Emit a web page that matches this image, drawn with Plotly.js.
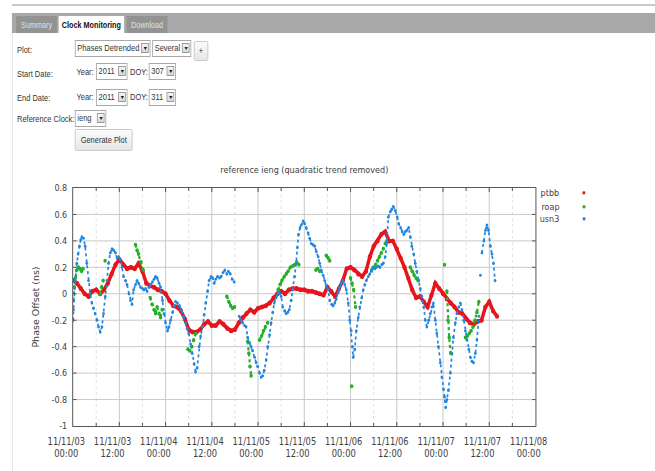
<!DOCTYPE html>
<html><head><meta charset="utf-8">
<script src="https://cdn.plot.ly/plotly-3.0.1.min.js"></script>
<style>
html,body{margin:0;padding:0;background:#fff;overflow:hidden;width:655px;height:471px;}
#page{position:absolute;left:0;top:0;width:771px;height:471px;transform:scaleX(0.85);transform-origin:0 0;font-family:"Liberation Sans",Arial,sans-serif;font-size:8.8px;color:#333;}
.abs{position:absolute;}
#topline{left:14px;top:4px;width:757px;height:2px;background:#c8c8c8;}
#tabbar{left:14px;top:13px;width:757px;height:20px;background:#a8a8a8;}
.tab{position:absolute;top:16px;height:17px;line-height:18px;text-align:center;font-size:8.5px;}
.tab.off{background:#939393;color:#e0e0e0;}
.tab.on{background:#fff;color:#111;font-weight:bold;}
#leftline{left:14px;top:33px;width:1px;height:438px;background:#e0e0e0;}
.lbl{position:absolute;height:17px;line-height:17px;white-space:nowrap;}
.sel{position:absolute;height:17px;border:1px solid #a8a8a8;background:#fff;line-height:15px;padding-left:2px;box-sizing:border-box;white-space:nowrap;overflow:hidden;}
.arrow{position:absolute;right:1px;top:2px;width:9px;height:10px;border:1px solid #9a9a9a;box-sizing:border-box;background:linear-gradient(#f6f6f6,#d6d6d6);}
.arrow:after{content:'';position:absolute;left:1.5px;top:3px;border-left:2.5px solid transparent;border-right:2.5px solid transparent;border-top:3px solid #222;}
.btn{position:absolute;border:1px solid #c6c6c6;border-radius:2px;background:linear-gradient(#fbfbfb,#e6e6e6);text-align:center;box-sizing:border-box;}
#chart{position:absolute;left:0;top:155px;width:771px;height:316px;}
</style>
</head>
<body>
<div id="page">
  <div id="topline" class="abs"></div>
  <div id="tabbar" class="abs"></div>
  <div class="tab off" style="left:19px;width:48px;">Summary</div>
  <div class="tab on" style="left:69px;width:77px;">Clock Monitoring</div>
  <div class="tab off" style="left:149px;width:48px;">Download</div>
  <div id="leftline" class="abs"></div>

  <div class="lbl" style="left:20px;top:42px;">Plot:</div>
  <div class="sel" style="left:88px;top:40px;width:89px;">Phases Detrended<div class="arrow"></div></div>
  <div class="sel" style="left:179px;top:40px;width:46px;">Several<div class="arrow"></div></div>
  <div class="btn" style="left:228px;top:41px;width:17px;height:20px;line-height:18px;">+</div>

  <div class="lbl" style="left:20px;top:66px;">Start Date:</div>
  <div class="lbl" style="left:90px;top:64px;">Year:</div>
  <div class="sel" style="left:113px;top:63px;width:37px;">2011<div class="arrow"></div></div>
  <div class="lbl" style="left:153px;top:64px;">DOY:</div>
  <div class="sel" style="left:175px;top:63px;width:32px;">307<div class="arrow"></div></div>

  <div class="lbl" style="left:20px;top:90px;">End Date:</div>
  <div class="lbl" style="left:90px;top:89px;">Year:</div>
  <div class="sel" style="left:113px;top:89px;width:37px;">2011<div class="arrow"></div></div>
  <div class="lbl" style="left:153px;top:89px;">DOY:</div>
  <div class="sel" style="left:175px;top:89px;width:32px;">311<div class="arrow"></div></div>

  <div class="lbl" style="left:20px;top:111px;">Reference Clock:</div>
  <div class="sel" style="left:88px;top:110px;width:37px;">ieng<div class="arrow"></div></div>

  <div class="btn" style="left:88px;top:129px;width:68px;height:22px;line-height:20px;">Generate Plot</div>

  <div id="chart"></div>
</div>
<script>
const seriesNames = ["ptbb", "roap", "usn3"];
const startDate = "2011-11-03";

// hours after 2011-11-03 00:00; null = break in the record
const ptbbHours = [0,1,2,3,4,5,6,7,8,9,
 10,11,12,13,14,15,16,17,18,19,
 20,21,22,23,24,25,26,27,28,29,
 30,31,32,33,34,35,36,37,38,39,
 40,41,42,43,44,45,46,47,48,49,
 50,51,52,53,54,55,56,57,58,59,
 60,61,62,63,64,65,66,67,68,69,
 70,71,72,73,74,75,76,77,78,79,
 80,81,82,83,84,85,86,87,88,89,
 90,91,92,93,94,95,96,97,98,99,
 100,101,102,103,104,105,106,107,108,109,
 110];
const ptbbPhase = [0.10,0.08,0.04,0.00,-0.02,0.02,0.03,0.00,0.03,0.08,
 0.15,0.22,0.26,0.22,0.19,0.20,0.19,0.23,0.17,0.08,
 0.06,0.05,0.03,0.02,0.00,-0.05,-0.09,-0.10,-0.13,-0.19,
 -0.27,-0.29,-0.29,-0.27,-0.23,-0.21,-0.24,-0.24,-0.21,-0.23,
 -0.26,-0.28,-0.27,-0.22,-0.18,-0.15,-0.12,-0.14,-0.11,-0.10,
 -0.09,-0.07,-0.03,0.00,0.02,0.00,0.03,0.04,0.04,0.03,
 0.03,0.02,0.02,0.01,0.00,-0.01,0.05,0.02,-0.02,0.04,
 0.10,0.19,0.20,0.18,0.15,0.13,0.17,0.28,0.36,0.40,
 0.45,0.47,0.40,0.40,0.34,0.27,0.20,0.12,0.03,-0.03,
 -0.02,-0.06,-0.10,-0.01,0.08,0.04,0.00,-0.04,-0.07,-0.10,
 -0.14,-0.15,-0.19,-0.22,-0.23,-0.21,-0.20,-0.10,-0.06,-0.13,
 -0.17];

const roapHours = [0.0,0.3,0.6,1.0,1.4,1.8,2.2,2.6,null,7.0,7.4,
 7.8,null,8.3,null,16.2,16.6,17.0,17.6,18.2,null,20.0,20.5,21.0,
 21.4,21.8,22.3,22.7,23.1,null,29.8,30.3,30.8,31.3,31.8,null,
 39.9,40.4,40.9,41.4,41.9,null,45.3,45.6,45.9,46.2,null,48.4,
 48.9,49.4,49.9,50.5,null,53.2,53.7,54.2,54.8,55.3,55.8,
 56.4,57.0,57.5,58.0,58.6,null,63.0,63.5,64.0,null,65.7,66.2,
 66.6,null,72.0,72.4,72.8,73.3,null,72.3,null,77.5,78.0,78.5,79.0,
 79.5,80.0,80.5,81.0,81.4,null,87.5,88.0,88.5,89.0,89.5,null,
 96.4,null,97.0,97.3,97.6,98.0,null,101.8,102.3,102.8,103.3,103.8,
 104.3,104.8,105.3];
const roapPhase = [-0.05,0.05,0.12,0.18,0.20,0.19,0.17,0.19,null,0.00,0.05,
 0.10,null,0.25,null,0.37,0.33,0.30,0.24,0.18,null,-0.03,-0.08,-0.12,
 -0.15,-0.10,-0.15,-0.18,-0.12,null,-0.42,-0.43,-0.40,-0.35,-0.30,null,
 -0.02,-0.06,-0.09,-0.11,-0.10,null,-0.36,-0.45,-0.55,-0.62,null,-0.35,
 -0.32,-0.28,-0.25,-0.22,null,0.03,0.07,0.10,0.13,0.15,0.17,
 0.20,0.21,0.22,0.24,0.22,null,0.18,0.19,0.17,null,0.29,0.27,
 0.25,null,0.12,0.08,0.03,-0.10,null,-0.70,null,0.18,0.20,0.22,0.25,
 0.28,0.31,0.34,0.38,0.40,null,0.20,0.17,0.14,0.12,0.10,null,
 0.22,null,0.02,-0.20,-0.33,-0.45,null,-0.33,-0.32,-0.30,-0.28,-0.25,
 -0.20,-0.14,-0.06];

const usn3Hours = [0.0,0.1,0.5,0.96,1.3,1.65,2.0,2.26,2.7,3.13,
 3.57,4.0,4.44,4.87,5.3,5.74,6.2,6.6,7.04,7.5,
 7.9,8.35,8.8,9.2,9.65,10.1,10.5,11.0,11.4,11.8,
 12.3,12.7,13.1,13.6,14.0,14.5,14.9,15.3,15.7,16.2,
 16.6,17.0,17.5,18.0,18.4,18.8,19.2,19.7,20.1,20.6,
 21.0,21.4,21.8,22.3,22.7,23.2,23.6,24.0,24.5,24.9,
 25.3,25.8,26.2,26.6,27.1,27.6,28.1,28.6,29.2,29.6,
 30.0,30.5,30.9,31.4,31.8,32.2,32.7,33.1,33.6,34.0,
 34.4,34.9,35.3,35.8,36.2,36.6,37.0,37.5,38.0,38.4,
 38.9,39.4,39.9,40.3,40.8,41.3,41.8,null,43.1,43.6,44.0,
 44.5,44.9,45.3,45.8,46.2,46.6,47.1,47.5,47.9,48.4,
 48.8,49.2,49.6,50.1,50.5,51.0,51.4,51.8,52.2,52.7,
 53.1,53.5,54.0,54.4,54.9,55.3,55.7,56.1,56.6,57.0,
 57.5,57.9,58.2,58.5,58.9,59.2,59.7,60.1,60.5,61.0,
 61.4,61.8,62.3,62.7,63.1,63.6,64.0,64.4,64.9,65.3,
 65.7,66.2,66.6,67.1,67.5,67.9,68.3,68.8,69.2,69.6,
 70.0,70.5,70.9,71.4,71.8,72.2,72.5,72.7,73.1,73.5,
 74.0,74.4,74.9,75.3,75.7,76.1,76.6,77.0,77.4,77.8,
 78.3,78.7,79.2,79.6,80.1,80.5,81.0,81.4,81.8,82.3,
 82.7,83.1,83.6,84.1,84.5,85.0,85.4,85.8,86.2,86.6,
 87.1,87.5,87.9,88.4,88.8,89.2,89.7,90.1,90.5,91.0,
 91.4,91.8,92.3,92.7,93.1,93.5,94.0,94.4,94.8,95.3,
 95.7,96.1,96.4,96.7,97.0,97.4,97.9,98.3,98.7,99.2,
 99.6,100.1,100.5,100.9,101.4,101.8,102.2,102.7,103.1,103.5,
 103.9,104.4,104.8,105.3,null,105.7,null,106.1,106.6,107.0,107.4,107.8,
 108.3,108.7,109.1,109.5];
const usn3Phase = [-0.20,-0.12,0.10,0.23,0.30,0.36,0.41,0.43,0.42,0.36,
 0.23,0.10,0.00,-0.07,-0.11,-0.15,-0.20,-0.25,-0.29,-0.25,
 -0.15,-0.02,0.10,0.23,0.31,0.34,0.33,0.31,0.27,0.28,
 0.26,0.20,0.13,0.10,0.07,0.00,-0.05,-0.08,0.03,0.07,
 0.10,0.08,0.05,0.04,0.03,0.04,0.02,0.05,0.07,0.09,
 0.11,0.13,0.12,0.08,0.05,-0.05,-0.15,-0.22,-0.28,-0.25,
 -0.20,-0.14,-0.09,-0.06,-0.07,-0.09,-0.12,-0.17,-0.22,-0.26,
 -0.30,-0.38,-0.45,-0.53,-0.59,-0.56,-0.40,-0.32,-0.25,-0.16,
 -0.07,0.02,0.10,0.13,0.12,0.08,0.11,0.13,0.12,0.13,
 0.16,0.18,0.15,0.17,0.15,0.11,0.09,null,-0.17,-0.20,-0.22,
 -0.24,-0.25,-0.33,-0.37,-0.40,-0.43,-0.48,-0.52,-0.55,-0.60,
 -0.63,-0.62,-0.58,-0.50,-0.40,-0.31,-0.22,-0.14,-0.07,-0.03,
 0.00,0.01,-0.02,-0.10,-0.13,-0.15,-0.14,-0.12,-0.05,0.03,
 0.13,0.23,0.35,0.45,0.50,0.52,0.55,0.53,0.50,0.46,
 0.42,0.38,0.37,0.36,0.32,0.28,0.23,0.18,0.14,0.10,
 0.06,0.03,-0.05,-0.08,-0.09,-0.07,-0.04,0.01,0.05,0.08,
 0.10,0.07,0.03,-0.07,-0.20,-0.28,-0.40,-0.48,-0.42,-0.28,
 -0.18,-0.10,-0.03,0.03,0.07,0.10,0.13,0.15,0.17,0.20,
 0.19,0.20,0.21,0.20,0.22,0.23,0.28,0.38,0.58,0.62,
 0.64,0.66,0.63,0.58,0.53,0.50,0.47,0.45,0.47,0.48,
 0.50,0.43,0.36,0.30,0.23,0.17,0.10,0.04,-0.02,-0.10,
 -0.20,-0.25,-0.20,-0.15,-0.10,-0.07,-0.20,-0.30,-0.40,-0.52,
 -0.63,-0.72,-0.78,-0.86,-0.80,-0.73,-0.60,-0.45,-0.33,-0.22,
 -0.15,-0.10,-0.07,-0.12,-0.20,-0.28,-0.35,-0.42,-0.48,-0.51,
 -0.52,-0.45,-0.35,-0.17,null,0.14,null,0.31,0.40,0.48,0.52,0.48,
 0.36,0.30,0.23,0.10];

const yTickValues = [-1,-0.8,-0.6,-0.4,-0.2,0,0.2,0.4,0.6,0.8];
const yTickLabels = ["-1","-0.8","-0.6","-0.4","-0.2","0","0.2","0.4","0.6","0.8"];
const xRange = ["2011-11-03 00:00", "2011-11-08 00:00"];

const seriesColors = ["#e8141c", "#22b024", "#2286e0"];
const markerSizes = [5, 4, 3.2];
const lineWidths = [4, 2.6, 2];
const lineDashes = ["solid", "dot", "dot"];

function toDate(h) {
  if (h === null) return null;
  const base = Date.parse(startDate + "T00:00:00Z");
  const d = new Date(base + h * 3600000);
  return d.toISOString().slice(0, 19).replace("T", " ");
}

const hoursList = [ptbbHours, roapHours, usn3Hours];
const phaseList = [ptbbPhase, roapPhase, usn3Phase];

const traces = seriesNames.map((name, i) => ({
  type: "scatter",
  mode: "lines+markers",
  name: name,
  x: hoursList[i].map(toDate),
  y: phaseList[i],
  connectgaps: false,
  line: {color: seriesColors[i], width: lineWidths[i], dash: lineDashes[i]},
  marker: {color: seriesColors[i], size: markerSizes[i], line: {width: 0}},
  showlegend: false,
  hoverinfo: "skip"
}));

const legendRowsY = [0.979, 0.924, 0.870];
const annotations = [];
seriesNames.forEach((name, i) => {
  annotations.push({xref: "paper", yref: "paper", x: 1.055, y: legendRowsY[i], xanchor: "right", yanchor: "middle",
    text: name, showarrow: false, font: {family: "DejaVu Sans", size: 9.5, color: "#404040"}});
  annotations.push({xref: "paper", yref: "paper", x: 1.105, y: legendRowsY[i], xanchor: "center", yanchor: "middle",
    text: "●", showarrow: false, font: {size: 4.5, color: seriesColors[i]}});
});

const axisColor = "#4a4a4a";
const layout = {
  width: 771, height: 316,
  margin: {l: 86, r: 141, t: 33, b: 45, pad: 0},
  paper_bgcolor: "rgba(0,0,0,0)",
  plot_bgcolor: "#ffffff",
  font: {family: "DejaVu Sans", size: 9.5, color: "#404040"},
  title: {text: "reference ieng (quadratic trend removed)", x: 0.5, xref: "paper", xanchor: "center",
          y: 0.952, yref: "container", yanchor: "middle", font: {family: "DejaVu Sans", size: 9.5, color: "#404040"}},
  xaxis: {
    type: "date", range: xRange, dtick: 43200000, tick0: "2011-11-03 00:00",
    tickformat: "%y/%m/%d<br>%H:%M",
    ticks: "inside", ticklen: 4, tickcolor: axisColor, tickwidth: 1,
    showline: true, linecolor: axisColor, linewidth: 1, mirror: "ticks",
    showgrid: true, gridcolor: "#c4c4c4", gridwidth: 1,
    minor: {dtick: 21600000, tick0: "2011-11-03 00:00", showgrid: true, gridcolor: "#dedede", griddash: "dot", gridwidth: 1,
            ticks: "inside", ticklen: 3, tickcolor: axisColor},
    zeroline: false, ticklabelshift: -8, ticklabelstandoff: 6,
    tickfont: {family: "DejaVu Sans", size: 9.8, color: "#404040"},
    fixedrange: true
  },
  yaxis: {
    range: [-1, 0.8], tickmode: "array", tickvals: yTickValues, ticktext: yTickLabels,
    ticks: "inside", ticklen: 4, tickcolor: axisColor,
    showline: true, linecolor: axisColor, linewidth: 1, mirror: "ticks",
    showgrid: true, gridcolor: "#c4c4c4", gridwidth: 1, zeroline: false,
    ticklabelstandoff: 4,
    tickfont: {family: "DejaVu Sans", size: 9.5, color: "#404040"},
    title: {text: "Phase Offset (ns)", standoff: 12, font: {family: "DejaVu Sans", size: 9.5, color: "#404040"}},
    fixedrange: true
  },
  annotations: annotations,
  showlegend: false
};

Plotly.newPlot("chart", traces, layout, {displayModeBar: false, staticPlot: true, responsive: false});
</script>
</body></html>
